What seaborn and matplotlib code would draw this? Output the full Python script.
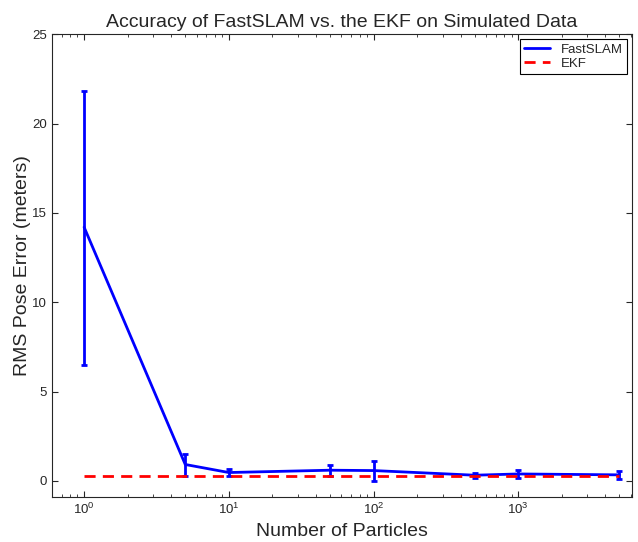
import matplotlib
matplotlib.use('Agg')
import matplotlib.pyplot as plt
import seaborn as sns
import pandas as pd
import numpy as np

# data
particles = [1, 5, 10, 50, 100, 500, 1000, 5000]
fastslam_err = [14.2, 0.92, 0.47, 0.6, 0.58, 0.32, 0.39, 0.34]
err_low = [6.5, 0.3, 0.28, 0.28, 0.0, 0.18, 0.17, 0.13]
err_high = [21.8, 1.5, 0.67, 0.91, 1.13, 0.45, 0.61, 0.56]
ekf_x = [1, 5000]
ekf_err = [0.28, 0.28]

sns.set_style('ticks')
plt.rcParams['font.family'] = ['Liberation Sans', 'DejaVu Sans']
plt.rcParams['xtick.direction'] = 'in'
plt.rcParams['ytick.direction'] = 'in'

df = pd.DataFrame({'particles': particles, 'err': fastslam_err})
ekf_df = pd.DataFrame({'particles': ekf_x, 'err': ekf_err})

fig = plt.figure(figsize=(6.38, 5.42), dpi=100)
ax = fig.add_axes([0.0815, 0.083, 0.909, 0.854])

yerr = np.array([np.array(fastslam_err) - np.array(err_low),
                 np.array(err_high) - np.array(fastslam_err)])
ax.errorbar(particles, fastslam_err, yerr=yerr, fmt='none', ecolor='#0000ff',
            elinewidth=2, capsize=2.5, capthick=2)
sns.lineplot(data=df, x='particles', y='err', ax=ax, color='#0000ff', lw=2,
             label='FastSLAM')
sns.lineplot(data=ekf_df, x='particles', y='err', ax=ax, color='#ff0000', lw=2,
             linestyle=(0, (4, 2.6)), label='EKF')

ax.set_xscale('log')
ax.set_xlim(0.6, 6100)
ax.set_ylim(-0.9, 25)
ax.set_yticks([0, 5, 10, 15, 20, 25])
ax.tick_params(which='both', top=True, right=True, labelsize=9.5, length=4)
ax.tick_params(which='minor', length=2)
for s in ax.spines.values():
    s.set_linewidth(0.8)

ax.set_title('Accuracy of FastSLAM vs. the EKF on Simulated Data', fontsize=14, pad=5)
ax.set_xlabel('Number of Particles', fontsize=14, labelpad=4)
ax.set_ylabel('RMS Pose Error (meters)', fontsize=14, labelpad=1)

leg = ax.legend(loc='upper right', fontsize=9.5, frameon=True, fancybox=False,
                edgecolor='black', framealpha=1, handlelength=2.0,
                borderpad=0.3, labelspacing=0.15, borderaxespad=0.4)
leg.get_frame().set_linewidth(0.8)

fig.savefig('out.png', dpi=100)
